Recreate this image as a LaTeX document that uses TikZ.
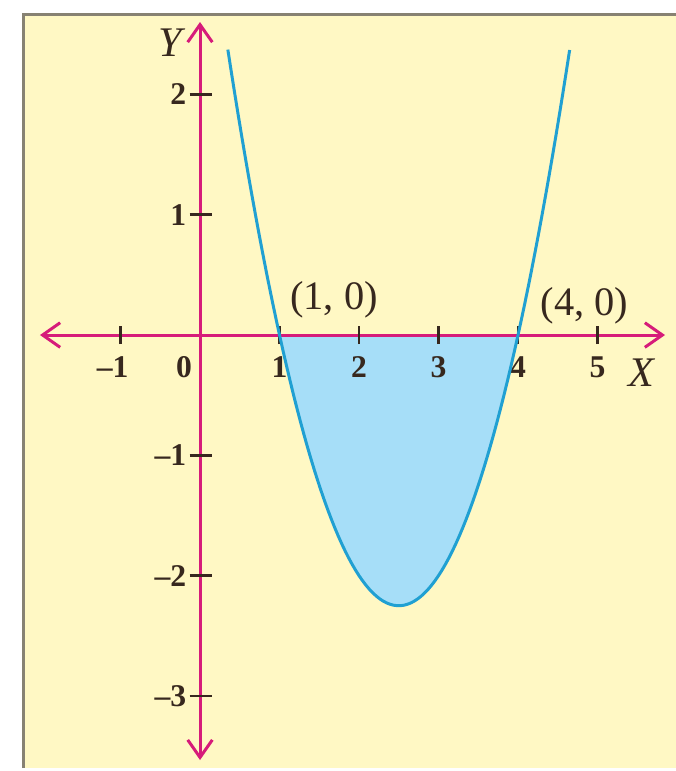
\documentclass[tikz,border=0pt]{standalone}
\usepackage{fontspec}
\setmainfont{Liberation Serif}
\usetikzlibrary{arrows.meta}
\definecolor{pagebg}{RGB}{255,248,196}
\definecolor{framegray}{RGB}{135,130,115}
\definecolor{axismag}{RGB}{214,28,122}
\definecolor{curveblue}{RGB}{32,160,210}
\definecolor{areablue}{RGB}{166,222,248}
\definecolor{tickdark}{RGB}{55,40,30}

\begin{document}
\begin{tikzpicture}[x=1.59cm, y=2.406cm,
  axis/.style={axismag, line width=1.7pt,
               {Straight Barb[length=10pt,width=14pt]}-{Straight Barb[length=10pt,width=14pt]}},
  tickmark/.style={tickdark, line width=1.4pt},
  ticklbl/.style={font=\fontsize{18}{18}\selectfont\bfseries, text=tickdark, inner sep=0pt},
  pointlbl/.style={font=\fontsize{23}{23}\selectfont, text=tickdark, inner sep=0pt},
  axislbl/.style={font=\fontsize{24}{24}\selectfont\itshape, text=tickdark, inner sep=0pt},
  parab/.style={curveblue, line width=1.7pt}
]
  \useasboundingbox (-2.516,-3.624) rectangle (5.987,2.785);
  \fill[pagebg] (-2.226,-3.60) rectangle (5.987,2.668);
  \draw[framegray, line width=1.7pt] (-2.226,-3.60) -- (-2.226,2.668) -- (5.987,2.668);

  % area between curve and x-axis
  \fill[areablue] (1,0) -- plot[domain=1:4, samples=60] (\x, {\x*\x-5*\x+4}) -- cycle;

  % axes
  \coordinate (xleft) at (-2.013,0);
  \coordinate (xright) at (5.849,0);
  \coordinate (ytop) at (0,2.602);
  \coordinate (ybottom) at (0,-3.533);
  \draw[axis] (xleft) -- (xright);
  \draw[axis] (ybottom) -- (ytop);

  \foreach \i in {-1,1,2,3,4,5} \draw[tickmark] (\i,-0.075) -- (\i,0.075);
  \foreach \j in {-3,-2,-1,1,2} \draw[tickmark] (-0.13,\j) -- (0.15,\j);

  \foreach \i in {1,...,5} \node[ticklbl] (xt\i) at (\i,-0.27) {\i};
  \node[ticklbl] (xtm1) at (-1,-0.27) {\llap{\textendash}1};
  \node[ticklbl] (origin) at (-0.2,-0.27) {0};
  \foreach \j in {1,2} \node[ticklbl, anchor=east] (yt\j) at (-0.17,\j) {\j};
  \foreach \j in {1,2,3} \node[ticklbl, anchor=east] (ytm\j) at (-0.17,-\j) {\textendash\j};

  \node[pointlbl] (p1) at (1.686,0.29) {(1,\hspace{0.25em}0)};
  \node[pointlbl] (p4) at (4.837,0.245) {(4,\hspace{0.25em}0)};
  \node[axislbl] (ylbl) at (-0.37,2.43) {Y};
  \node[axislbl] (xlbl) at (5.55,-0.31) {X};

  % parabola y = x^2 - 5x + 4
  \draw[parab] plot[domain=0.35:4.65, samples=100] (\x, {\x*\x-5*\x+4});
\end{tikzpicture}
\end{document}
